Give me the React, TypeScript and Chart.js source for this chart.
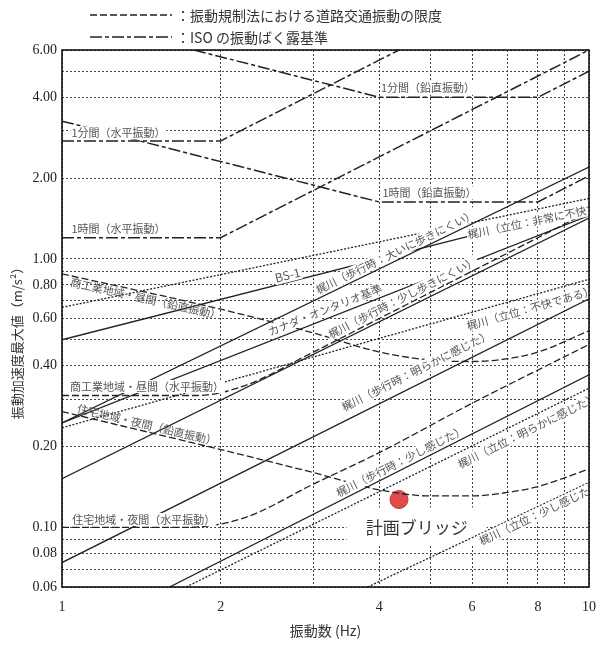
import React, { useEffect, useRef } from 'react';
import { Chart, registerables } from 'chart.js';
Chart.register(...registerables);

type P = [number, number];

// ---- data: [frequency Hz, acceleration m/s2] ----
const isoV1min: P[] = [[1.78, 6], [4, 4], [8, 4], [10, 5]];
const isoV1h: P[] = [[1, 3.26], [4, 1.63], [8, 1.63], [10, 2.04]];
const isoH1min: P[] = [[1, 2.75], [2, 2.75], [4.36, 6]];
const isoH1h: P[] = [[1, 1.2], [2, 1.2], [10, 6]];
const lawComDayV: P[] = [[1, 0.88], [2, 0.65], [3, 0.53], [4, 0.45], [5, 0.42], [6, 0.415], [7, 0.425], [8, 0.45], [10, 0.54]];
const lawComDayH: P[] = [[1, 0.31], [1.8, 0.31], [2.2, 0.335], [3, 0.45], [4, 0.6], [6, 0.9], [10, 1.5]];
const lawResNightV: P[] = [[1, 0.27], [2, 0.195], [3, 0.16], [4, 0.138], [5, 0.131], [6, 0.131], [7, 0.135], [8, 0.142], [10, 0.165]];
const lawResNightH: P[] = [[1, 0.1], [1.7, 0.1], [2.2, 0.108], [3, 0.145], [4, 0.19], [6, 0.29], [10, 0.48]];
const bs1: P[] = [[1, 0.5], [10, 1.58]];
const ontario: P[] = [[1, 0.245], [10, 1.45]];
const walkVeryHard: P[] = [[1, 0.245], [10, 2.2]];
const walkHard: P[] = [[1, 0.152], [10, 1.42]];
const walkClear: P[] = [[1, 0.074], [10, 0.71]];
const walkSlight: P[] = [[1.6, 0.06], [10, 0.37]];
const standVeryUnpl: P[] = [[1, 0.66], [10, 1.68]];
const standUnpl: P[] = [[1, 0.235], [10, 0.84]];
const standClear: P[] = [[1.72, 0.06], [10, 0.33]];
const standSlight: P[] = [[3.8, 0.06], [10, 0.147]];
const bridgePoint: P[] = [[4.36, 0.127]];

const xTicks = [1, 2, 3, 4, 5, 6, 7, 8, 9, 10];
const xLabels = [1, 2, 4, 6, 8, 10];
const yTicks = [0.06, 0.07, 0.08, 0.09, 0.1, 0.2, 0.3, 0.4, 0.5, 0.6, 0.7, 0.8, 0.9, 1, 2, 3, 4, 5, 6];
const yLabels = [6, 4, 2, 1, 0.8, 0.6, 0.4, 0.2, 0.1, 0.08, 0.06];

// ---- styles ----
const ISO_DASH = [12, 3, 4, 3];
const LAW_DASH = [7, 3];
const DOT_DASH = [2, 1.6];
const SOLID: number[] = [];

const series: { key: string; data: P[]; dash: number[]; smooth?: boolean; width?: number }[] = [
  { key: 'isoV1min', data: isoV1min, dash: ISO_DASH, width: 1.5 },
  { key: 'isoV1h', data: isoV1h, dash: ISO_DASH, width: 1.5 },
  { key: 'isoH1min', data: isoH1min, dash: ISO_DASH, width: 1.5 },
  { key: 'isoH1h', data: isoH1h, dash: ISO_DASH, width: 1.5 },
  { key: 'lawComDayV', data: lawComDayV, dash: LAW_DASH, smooth: true },
  { key: 'lawComDayH', data: lawComDayH, dash: LAW_DASH, smooth: true },
  { key: 'lawResNightV', data: lawResNightV, dash: LAW_DASH, smooth: true },
  { key: 'lawResNightH', data: lawResNightH, dash: LAW_DASH, smooth: true },
  { key: 'bs1', data: bs1, dash: SOLID },
  { key: 'ontario', data: ontario, dash: SOLID },
  { key: 'walkVeryHard', data: walkVeryHard, dash: SOLID },
  { key: 'walkHard', data: walkHard, dash: SOLID },
  { key: 'walkClear', data: walkClear, dash: SOLID },
  { key: 'walkSlight', data: walkSlight, dash: SOLID },
  { key: 'standVeryUnpl', data: standVeryUnpl, dash: DOT_DASH },
  { key: 'standUnpl', data: standUnpl, dash: DOT_DASH },
  { key: 'standClear', data: standClear, dash: DOT_DASH },
  { key: 'standSlight', data: standSlight, dash: DOT_DASH },
];

type Lbl = { text: string; key: string; f: number; off: number; bg?: boolean; align?: 'left' | 'center'; size?: number };
const lineLabels: Lbl[] = [
  { text: '1分間（鉛直振動）', key: 'isoV1min', f: 4.95, off: -9 },
  { text: '1分間（水平振動）', key: 'isoH1min', f: 1.28, off: -8 },
  { text: '1時間（鉛直振動）', key: 'isoV1h', f: 4.98, off: -9 },
  { text: '1時間（水平振動）', key: 'isoH1h', f: 1.28, off: -9 },
  { text: '商工業地域・昼間（鉛直振動）', key: 'lawComDayV', f: 1.45, off: 6, bg: false },
  { text: '商工業地域・昼間（水平振動）', key: 'lawComDayH', f: 1.45, off: -9 },
  { text: '住宅地域・夜間（鉛直振動）', key: 'lawResNightV', f: 1.44, off: -7, bg: false },
  { text: '住宅地域・夜間（水平振動）', key: 'lawResNightH', f: 1.43, off: -8 },
  { text: 'BS-1', key: 'bs1', f: 2.7, off: -7, size: 12 },
  { text: 'カナダ・オンタリオ基準', key: 'ontario', f: 3.2, off: -9 },
  { text: '梶川（歩行時：大いに歩きにくい）', key: 'walkVeryHard', f: 4.36, off: -8 },
  { text: '梶川（歩行時：少し歩きにくい）', key: 'lawComDayH', f: 4.5, off: -8 },
  { text: '梶川（立位：非常に不快である）', key: 'standVeryUnpl', f: 5.83, off: 11, align: 'left' },
  { text: '梶川（立位：不快である）', key: 'standUnpl', f: 7.63, off: 12 },
  { text: '梶川（歩行時：明らかに感じた）', key: 'walkClear', f: 4.82, off: -13 },
  { text: '梶川（歩行時：少し感じた）', key: 'walkSlight', f: 4.46, off: -8 },
  { text: '梶川（立位：明らかに感じた）', key: 'standClear', f: 7.48, off: 11 },
  { text: '梶川（立位：少し感じた）', key: 'standSlight', f: 7.95, off: 7 },
];

const SERIF = "'Liberation Serif', 'DejaVu Serif', 'Noto Sans CJK JP', serif";
const JP = "'Noto Sans CJK JP', 'Liberation Serif', serif";

function interpLog(pts: P[], f: number): number {
  const L = Math.log10;
  let i = 0;
  while (i < pts.length - 2 && f > pts[i + 1][0]) i++;
  const [f0, a0] = pts[i];
  const [f1, a1] = pts[i + 1];
  const t = (L(f) - L(f0)) / (L(f1) - L(f0));
  return Math.pow(10, L(a0) + t * (L(a1) - L(a0)));
}

const dataByKey: Record<string, P[]> = {};
series.forEach((s) => (dataByKey[s.key] = s.data));

const overlayPlugin = {
  id: 'overlay',
  beforeDatasetsDraw(chart: any) {
    const { ctx, scales } = chart;
    const cx = scales.x.getPixelForValue(4.71);
    const cy = scales.y.getPixelForValue(0.1);
    ctx.save();
    ctx.fillStyle = '#ffffff';
    ctx.fillRect(cx - 70, cy - 20, 140, 38);
    ctx.fillStyle = '#333';
    ctx.font = `17px ${JP}`;
    ctx.textAlign = 'center';
    ctx.textBaseline = 'middle';
    ctx.fillText('計画ブリッジ', cx, cy);
    ctx.restore();
  },
  afterDatasetsDraw(chart: any) {
    const { ctx, chartArea: ca, scales } = chart;
    const xs = scales.x, ys = scales.y;
    ctx.save();
    ctx.beginPath();
    ctx.rect(ca.left, ca.top, ca.right - ca.left, ca.bottom - ca.top);
    ctx.clip();
    for (const L of lineLabels) {
      const pts = dataByKey[L.key];
      const a = interpLog(pts, L.f);
      const px = xs.getPixelForValue(L.f), py = ys.getPixelForValue(a);
      const fa = L.f / 1.03, fb = L.f * 1.03;
      const ang = Math.atan2(
        ys.getPixelForValue(interpLog(pts, fb)) - ys.getPixelForValue(interpLog(pts, fa)),
        xs.getPixelForValue(fb) - xs.getPixelForValue(fa)
      );
      const size = L.size || 11;
      ctx.save();
      ctx.translate(px, py);
      ctx.rotate(ang);
      ctx.translate(0, L.off);
      ctx.font = `${size}px ${JP}`;
      const w = ctx.measureText(L.text).width;
      const left = L.align === 'left' ? 0 : -w / 2;
      if (L.bg !== false) {
        ctx.fillStyle = '#ffffff';
        ctx.fillRect(left - 1, -size / 2 - 1, w + 2, size + 2);
      }
      ctx.fillStyle = '#555';
      ctx.textAlign = 'left';
      ctx.textBaseline = 'middle';
      ctx.fillText(L.text, left, 0);
      ctx.restore();
    }
    ctx.restore();
  },
  afterDraw(chart: any) {
    const { ctx, chartArea: ca } = chart;
    ctx.save();
    // frame
    ctx.strokeStyle = '#111';
    ctx.lineWidth = 1.6;
    ctx.setLineDash([]);
    ctx.strokeRect(ca.left, ca.top, ca.right - ca.left, ca.bottom - ca.top);
    // axis titles
    ctx.fillStyle = '#333';
    ctx.font = `14px ${JP}`;
    ctx.textAlign = 'center';
    ctx.textBaseline = 'middle';
    ctx.fillText('振動数 (Hz)', (ca.left + ca.right) / 2, 631);
    ctx.save();
    ctx.translate(17, 340);
    ctx.rotate(-Math.PI / 2);
    ctx.font = `13px ${JP}`;
    ctx.fillText('振動加速度最大値（m/s²）', 0, 0);
    ctx.restore();
    // legend
    const legend = [
      { dash: LAW_DASH, text: '：振動規制法における道路交通振動の限度', y: 15, w: 1.3 },
      { dash: ISO_DASH, text: '：ISO の振動ばく露基準', y: 37, w: 1.5 },
    ];
    for (const it of legend) {
      ctx.strokeStyle = '#222';
      ctx.lineWidth = it.w;
      ctx.setLineDash(it.dash);
      ctx.beginPath();
      ctx.moveTo(90, it.y);
      ctx.lineTo(172, it.y);
      ctx.stroke();
      ctx.setLineDash([]);
      ctx.fillStyle = '#333';
      ctx.font = `14px ${JP}`;
      ctx.textAlign = 'left';
      ctx.fillText(it.text, 176, it.y + 1);
    }
    ctx.restore();
  },
};

export default function App() {
  const ref = useRef<HTMLCanvasElement | null>(null);
  useEffect(() => {
    if (!ref.current) return;
    const datasets: any[] = series.map((s) => ({
      label: s.key,
      data: s.data.map(([x, y]) => ({ x, y })),
      borderColor: '#222',
      borderWidth: s.width || 1.3,
      borderDash: s.dash,
      pointRadius: 0,
      fill: false,
      tension: 0,
      cubicInterpolationMode: s.smooth ? 'monotone' : 'default',
    }));
    datasets.push({
      label: 'bridge',
      data: bridgePoint.map(([x, y]) => ({ x, y })),
      showLine: false,
      pointRadius: 9,
      pointBackgroundColor: '#e04a4a',
      pointBorderColor: '#c43a3a',
      pointBorderWidth: 1,
    });
    const chart = new Chart(ref.current, {
      type: 'line',
      data: { datasets },
      options: {
        animation: false,
        responsive: false,
        devicePixelRatio: 1,
        layout: { padding: { top: 50, right: 10, left: 0, bottom: 0 } },
        plugins: { legend: { display: false }, tooltip: { enabled: false }, title: { display: false } },
        scales: {
          x: {
            type: 'logarithmic',
            min: 1,
            max: 10,
            afterBuildTicks: (s: any) => { s.ticks = xTicks.map((v) => ({ value: v })); },
            afterFit: (s: any) => { s.height = 59; },
            ticks: {
              autoSkip: false,
              maxRotation: 0,
              padding: 12,
              color: '#222',
              font: { family: SERIF, size: 14 },
              callback: (v: any) => (xLabels.some((l) => Math.abs(l - Number(v)) < 1e-9) ? String(v) : ''),
            },
            grid: { color: '#444', lineWidth: 1, drawTicks: false },
            border: { display: false, dash: [2, 2] },
          },
          y: {
            type: 'logarithmic',
            min: 0.06,
            max: 6,
            afterBuildTicks: (s: any) => { s.ticks = yTicks.map((v) => ({ value: v })); },
            afterFit: (s: any) => { s.width = 62; },
            ticks: {
              autoSkip: false,
              padding: 5,
              color: '#222',
              font: { family: SERIF, size: 14 },
              callback: (v: any) => (yLabels.some((l) => Math.abs(l - Number(v)) < 1e-9) ? Number(v).toFixed(2) : ''),
            },
            grid: { color: '#444', lineWidth: 1, drawTicks: false },
            border: { display: false, dash: [2, 2] },
          },
        },
      },
      plugins: [overlayPlugin],
    } as any);
    return () => chart.destroy();
  }, []);
  return (
    <div style={{ position: 'fixed', left: 0, top: 0, width: 608, height: 646, background: '#fff' }}>
      <canvas ref={ref} width={608} height={646} style={{ display: 'block' }} />
    </div>
  );
}
